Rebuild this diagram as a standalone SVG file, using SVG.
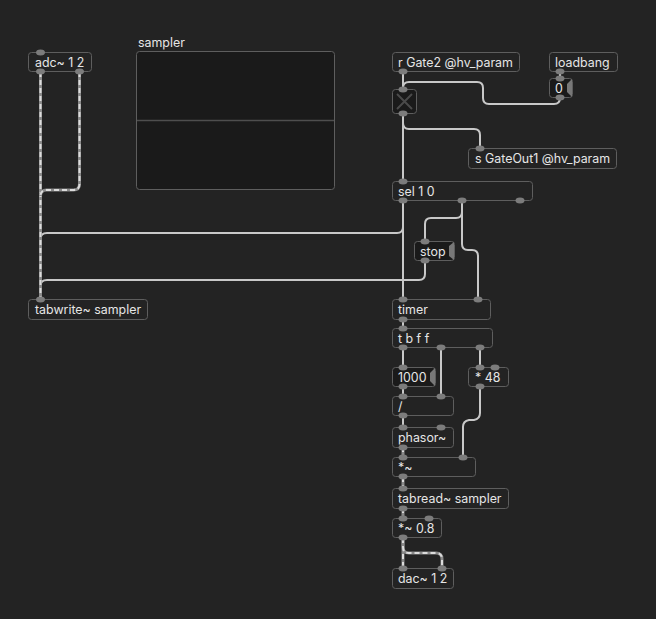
<svg xmlns="http://www.w3.org/2000/svg" width="656" height="619" viewBox="0 0 656 619">
<defs>
<style>
.obj{fill:#232323;stroke:#5e5e5e;stroke-width:1}
.atom{fill:#1a1a1a;stroke:#5e5e5e;stroke-width:1}
.t{font-family:Inter,"Liberation Sans",sans-serif;font-size:12.4px;fill:#e6e6e6}
.io{fill:#7c7c7c}
.c{fill:none;stroke:#c8c8c8;stroke-width:2;stroke-linecap:round}
.sb{fill:none;stroke:#8a8a8a;stroke-width:3}
.sd{fill:none;stroke:#dcdcdc;stroke-width:2;stroke-dasharray:5 3}
.flag{fill:#787878}
</style>
</defs>
<rect width="656" height="619" fill="#232323"/>

<g id="connectors">
<path class="c" d="M403,200 V227 Q403,233 397,233 H47 Q40.5,233 40.5,239 V299"/>
<path class="c" d="M425,261 V274 Q425,280 419,280 H47 Q40.5,280 40.5,286 V299"/>
<path class="c" d="M403,71 V89"/>
<path class="c" d="M560,97 V98 Q560,104 554,104 H489 Q483,104 483,98 V88 Q483,82 477,82 H409 Q403,82 403,88 V89"/>
<path class="c" d="M560,71 V78"/>
<path class="c" d="M403,114 V123 Q403,129 409,129 H474 Q480,129 480,135 V148"/>
<path class="c" d="M403,114 V181"/>
<path class="c" d="M403,200 V299"/>
<path class="c" d="M462,200 V212 Q462,218 456,218 H431 Q425,218 425,224 V241"/>
<path class="c" d="M462,200 V244 Q462,250 468,250 H472 Q478,250 478,256 V299"/>
<path class="c" d="M403,319 V328"/>
<path class="c" d="M403,348 V367"/>
<path class="c" d="M441,348 V396"/>
<path class="c" d="M480,348 V367"/>
<path class="c" d="M403,387 V396"/>
<path class="c" d="M403,416 V427"/>
<path class="c" d="M480,387 V413 Q480,419 474,420 H469 Q463,421 463,427 V457"/>
<g>
<path class="sb" d="M40.5,72 V299"/>
<path class="sd" d="M40.5,72 V299"/>
<path class="sb" d="M79.5,72 V184 Q79.5,190 73.5,190 H46.5 Q40.5,190 40.5,196"/>
<path class="sd" d="M79.5,72 V184 Q79.5,190 73.5,190 H46.5 Q40.5,190 40.5,196"/>
<path class="sb" d="M403,447 V457"/>
<path class="sd" d="M403,447 V457"/>
<path class="sb" d="M403,477 V488"/>
<path class="sd" d="M403,477 V488"/>
<path class="sb" d="M403,508 V518"/>
<path class="sd" d="M403,508 V518"/>
<path class="sb" d="M403,538 V568"/>
<path class="sd" d="M403,538 V568"/>
<path class="sb" d="M403,538 V547 Q403,553 409,553 H436 Q442,553 442,559 V568"/>
<path class="sd" d="M403,538 V547 Q403,553 409,553 H436 Q442,553 442,559 V568"/>
</g>
</g>

<g id="adc">
<rect class="obj" x="28.5" y="52.5" width="63" height="19" rx="3"/>
<text class="t" x="35" y="66.5">adc~ 1 2</text>
<ellipse class="io" cx="40.5" cy="52.5" rx="4.5" ry="3"/>
<ellipse class="io" cx="40.5" cy="71.5" rx="4.5" ry="3"/>
<ellipse class="io" cx="79.5" cy="71.5" rx="4.5" ry="3"/>
</g>

<g id="sampler">
<text class="t" x="138" y="47">sampler</text>
<rect x="136.5" y="51.5" width="198" height="138" rx="3" fill="#1a1a1a" stroke="#5e5e5e"/>
<line x1="137" y1="120.5" x2="334" y2="120.5" stroke="#4e4e4e" stroke-width="1.5"/>
</g>

<g id="tabwrite">
<rect class="obj" x="28.5" y="299.5" width="119" height="20" rx="3"/>
<text class="t" x="35" y="314">tabwrite~ sampler</text>
<ellipse class="io" cx="40.5" cy="299.5" rx="4.5" ry="3"/>
</g>

<g id="rgate">
<rect class="obj" x="392.5" y="52.5" width="127" height="19" rx="3"/>
<text class="t" x="398" y="66.5">r Gate2 @hv_param</text>
<ellipse class="io" cx="403" cy="71.5" rx="4.5" ry="3"/>
</g>

<g id="loadbang">
<rect class="obj" x="549.5" y="52.5" width="68" height="19" rx="3"/>
<text class="t" x="555" y="66.5">loadbang</text>
<ellipse class="io" cx="560" cy="71.5" rx="4.5" ry="3"/>
</g>

<g id="num0">
<rect class="atom" x="549.5" y="78.5" width="23" height="19" rx="3"/>
<polygon class="flag" points="572,79 567,84 567,92 572,97"/>
<text class="t" x="555" y="92.5">0</text>
<ellipse class="io" cx="560" cy="78.5" rx="4.5" ry="3"/>
<ellipse class="io" cx="560" cy="97.5" rx="4.5" ry="3"/>
</g>

<g id="toggle">
<rect class="atom" x="392.5" y="89.5" width="24" height="24" rx="3"/>
<path d="M397,94 L412,109 M412,94 L397,109" stroke="#4a4a4a" stroke-width="2"/>
<ellipse class="io" cx="403" cy="89.5" rx="4.5" ry="3"/>
<ellipse class="io" cx="403" cy="113.5" rx="4.5" ry="3"/>
</g>

<g id="sgate">
<rect class="obj" x="468.5" y="148.5" width="148" height="20" rx="3"/>
<text class="t" x="475" y="163">s GateOut1 @hv_param</text>
<ellipse class="io" cx="480" cy="148.5" rx="4.5" ry="3"/>
</g>

<g id="sel">
<rect class="obj" x="392.5" y="181.5" width="140" height="19" rx="3"/>
<text class="t" x="398" y="195.5">sel 1 0</text>
<ellipse class="io" cx="403" cy="181.5" rx="4.5" ry="3"/>
<ellipse class="io" cx="403" cy="200.5" rx="4.5" ry="3"/>
<ellipse class="io" cx="462" cy="200.5" rx="4.5" ry="3"/>
<ellipse class="io" cx="520" cy="200.5" rx="4.5" ry="3"/>
</g>

<g id="stop">
<rect class="atom" x="414.5" y="241.5" width="40" height="19" rx="3"/>
<polygon class="flag" points="454,242 449,246 449,256 454,260"/>
<text class="t" x="420" y="255.5">stop</text>
<ellipse class="io" cx="425" cy="241.5" rx="4.5" ry="3"/>
<ellipse class="io" cx="425" cy="260.5" rx="4.5" ry="3"/>
</g>

<g id="timer">
<rect class="obj" x="392.5" y="299.5" width="98" height="20" rx="3"/>
<text class="t" x="398" y="314">timer</text>
<ellipse class="io" cx="403" cy="299.5" rx="4.5" ry="3"/>
<ellipse class="io" cx="478" cy="299.5" rx="4.5" ry="3"/>
<ellipse class="io" cx="403" cy="319.5" rx="4.5" ry="3"/>
</g>

<g id="tbff">
<rect class="obj" x="392.5" y="328.5" width="100" height="19" rx="3"/>
<text class="t" x="398" y="342.5">t b f f</text>
<ellipse class="io" cx="403" cy="328.5" rx="4.5" ry="3"/>
<ellipse class="io" cx="403" cy="347.5" rx="4.5" ry="3"/>
<ellipse class="io" cx="441" cy="347.5" rx="4.5" ry="3"/>
<ellipse class="io" cx="480" cy="347.5" rx="4.5" ry="3"/>
</g>

<g id="n1000">
<rect class="atom" x="392.5" y="367.5" width="43" height="19" rx="3"/>
<polygon class="flag" points="435,368 430,373 430,381 435,386"/>
<text class="t" x="398" y="381.5">1000</text>
<ellipse class="io" cx="403" cy="367.5" rx="4.5" ry="3"/>
<ellipse class="io" cx="403" cy="386.5" rx="4.5" ry="3"/>
</g>

<g id="mul48">
<rect class="obj" x="468.5" y="367.5" width="40" height="19" rx="3"/>
<text class="t" x="475" y="381.5">* 48</text>
<ellipse class="io" cx="480" cy="367.5" rx="4.5" ry="3"/>
<ellipse class="io" cx="495" cy="367.5" rx="4.5" ry="3"/>
<ellipse class="io" cx="480" cy="386.5" rx="4.5" ry="3"/>
</g>

<g id="div">
<rect class="obj" x="392.5" y="396.5" width="61" height="19" rx="3"/>
<text class="t" x="398" y="410.5">/</text>
<ellipse class="io" cx="403" cy="396.5" rx="4.5" ry="3"/>
<ellipse class="io" cx="441" cy="396.5" rx="4.5" ry="3"/>
<ellipse class="io" cx="403" cy="415.5" rx="4.5" ry="3"/>
</g>

<g id="phasor">
<rect class="obj" x="392.5" y="427.5" width="61" height="20" rx="3"/>
<text class="t" x="398" y="442">phasor~</text>
<ellipse class="io" cx="403" cy="427.5" rx="4.5" ry="3"/>
<ellipse class="io" cx="441" cy="427.5" rx="4.5" ry="3"/>
<ellipse class="io" cx="403" cy="447.5" rx="4.5" ry="3"/>
</g>

<g id="mulsig">
<rect class="obj" x="392.5" y="457.5" width="83" height="19" rx="3"/>
<text class="t" x="398" y="471.5">*~</text>
<ellipse class="io" cx="403" cy="457.5" rx="4.5" ry="3"/>
<ellipse class="io" cx="463" cy="457.5" rx="4.5" ry="3"/>
<ellipse class="io" cx="403" cy="476.5" rx="4.5" ry="3"/>
</g>

<g id="tabread">
<rect class="obj" x="392.5" y="488.5" width="116" height="20" rx="3"/>
<text class="t" x="398" y="503">tabread~ sampler</text>
<ellipse class="io" cx="403" cy="488.5" rx="4.5" ry="3"/>
<ellipse class="io" cx="403" cy="508.5" rx="4.5" ry="3"/>
</g>

<g id="gain">
<rect class="obj" x="392.5" y="518.5" width="49" height="19" rx="3"/>
<text class="t" x="398" y="532.5">*~ 0.8</text>
<ellipse class="io" cx="403" cy="518.5" rx="4.5" ry="3"/>
<ellipse class="io" cx="429" cy="518.5" rx="4.5" ry="3"/>
<ellipse class="io" cx="403" cy="537.5" rx="4.5" ry="3"/>
</g>

<g id="dac">
<rect class="obj" x="392.5" y="568.5" width="61" height="20" rx="3"/>
<text class="t" x="398" y="583">dac~ 1 2</text>
<ellipse class="io" cx="403" cy="568.5" rx="4.5" ry="3"/>
<ellipse class="io" cx="442" cy="568.5" rx="4.5" ry="3"/>
</g>
</svg>
